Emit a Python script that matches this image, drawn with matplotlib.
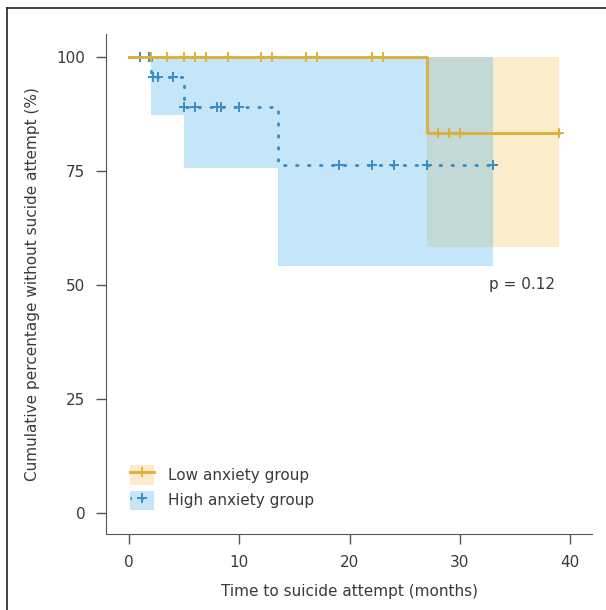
import numpy as np
import matplotlib.pyplot as plt
from matplotlib.patches import Patch
from matplotlib.lines import Line2D

# Kaplan-Meier step data
low_t = [0, 27, 39]
low_s = [100, 83.3, 83.3]
low_lo = [100, 58.3, 58.3]
low_hi = [100, 100, 100]
low_cens = [2, 3.4, 5, 6, 7, 9, 12, 13, 16, 17, 22, 23, 28, 29, 30, 39]

high_t = [0, 2, 5, 13.5, 33]
high_s = [100, 95.5, 89.0, 76.3, 76.3]
high_lo = [100, 87.3, 75.7, 54.2, 54.2]
high_hi = [100, 100, 100, 100, 100]
high_cens = [1, 1.8, 2.2, 2.6, 4, 5, 6, 8, 8.3, 10, 19, 22, 24, 27, 33]

gold = '#DDB13C'
gold_fill = (0.96, 0.76, 0.33)
blue = '#3A8DC5'
blue_fill = (0.35, 0.72, 0.92)
txt = '#3a3a3a'

def step_val(t, s, x):
    idx = np.searchsorted(t, x, side='right') - 1
    return np.array(s)[idx]

fig = plt.figure(figsize=(6.06, 6.10), dpi=100)
ax = fig.add_axes([0.175, 0.1246, 0.802, 0.8194])

ax.fill_between(low_t, low_lo, low_hi, step='post', color=gold_fill, alpha=0.3, lw=0)
ax.fill_between(high_t, high_lo, high_hi, step='post', color=blue_fill, alpha=0.35, lw=0)

dots = (0, (0.5, 3.6))
ax.step(high_t, high_s, where='post', color=blue, lw=2.1, linestyle=dots,
        dash_capstyle='round')
ax.plot(high_cens, step_val(high_t, high_s, high_cens), '+', color=blue, ms=7, mew=1.4)

ax.step(low_t, low_s, where='post', color=gold, lw=2.1)
ax.plot(low_cens, step_val(low_t, low_s, low_cens), '+', color=gold, ms=7, mew=1.4)

ax.text(35.6, 50, 'p = 0.12', ha='center', va='center', fontsize=11, color=txt)

ax.set_xlim(-2.1, 42)
ax.set_ylim(-4.6, 105)
ax.set_xticks([0, 10, 20, 30, 40])
ax.set_yticks([0, 25, 50, 75, 100])
ax.tick_params(length=7, width=1, color='#555555', labelcolor=txt, labelsize=11, pad=8)
for sp in ['top', 'right']:
    ax.spines[sp].set_visible(False)
for sp in ['left', 'bottom']:
    ax.spines[sp].set_color('#555555')
ax.set_xlabel('Time to suicide attempt (months)', fontsize=11, color=txt, labelpad=10)
ax.set_ylabel('Cumulative percentage without sucide attempt (%)', fontsize=11, color=txt, labelpad=12)

h_low = (Patch(facecolor=gold_fill, alpha=0.3, lw=0),
         Line2D([], [], color=gold, lw=2.1, marker='+', ms=7, mew=1.4))
h_high = (Patch(facecolor=blue_fill, alpha=0.35, lw=0),
          Line2D([], [], color=blue, lw=2.1, linestyle=dots, marker='+', ms=7, mew=1.4))
leg = ax.legend([h_low, h_high], ['Low anxiety group', 'High anxiety group'],
                loc='lower left', bbox_to_anchor=(0.02, 0.02), frameon=False,
                fontsize=11, handlelength=1.6, handleheight=1.6, labelspacing=0.4,
                handletextpad=0.9)
for t in leg.get_texts():
    t.set_color(txt)

# frame edges visible at top and left of the picture
fig.add_artist(Line2D([0.0115, 0.0115], [0, 0.987], color='#222222', lw=1.2))
fig.add_artist(Line2D([0.0115, 1.0], [0.987, 0.987], color='#222222', lw=1.2))

fig.savefig('out.png', dpi=100)
